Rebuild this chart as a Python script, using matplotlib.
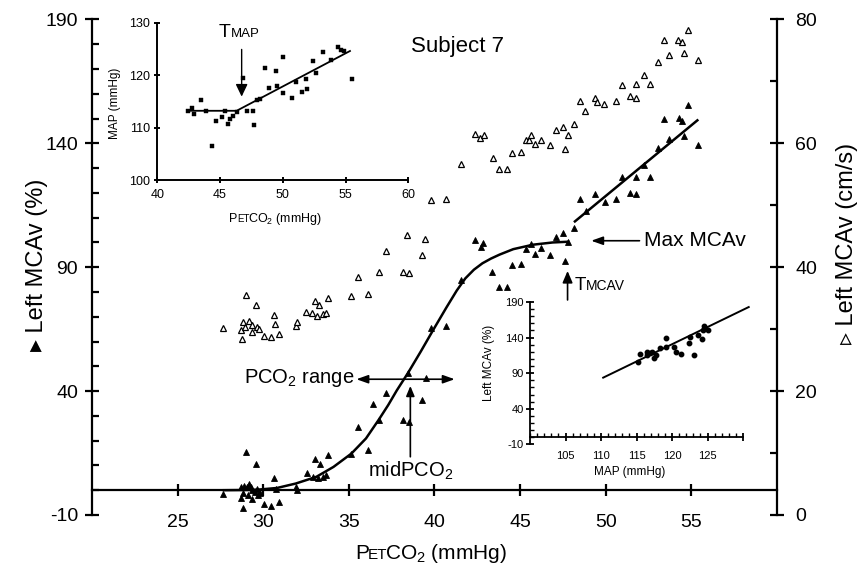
import matplotlib
matplotlib.use('Agg')
import matplotlib.pyplot as plt
from matplotlib.ticker import MultipleLocator
from matplotlib.offsetbox import TextArea, HPacker, AnnotationBbox

FAM = ['Liberation Sans', 'DejaVu Sans']
plt.rcParams['font.family'] = FAM
plt.rcParams['mathtext.default'] = 'regular'
plt.rcParams['axes.unicode_minus'] = False

# ---------------- data: main panel ----------------
# Left MCAv (%) vs PETCO2 (filled triangles, left axis)
pet_filled = [27.66, 28.73, 28.73, 28.79, 28.83, 28.89, 28.98, 29.03, 29.12, 29.18, 29.26, 29.35,
              29.37, 29.51, 29.57, 29.65, 29.70, 29.80, 30.05, 30.44, 30.62, 30.73, 30.91, 31.94,
              31.98, 32.53, 32.91, 33.01, 33.20, 33.30, 33.50, 33.69, 33.79, 35.15, 35.54, 36.12,
              36.41, 36.75, 37.15, 38.16, 38.45, 38.51, 39.29, 39.52, 39.82, 40.69, 41.57, 42.35,
              42.73, 42.83, 43.37, 43.76, 44.23, 44.54, 45.03, 45.36, 45.65, 45.88, 46.23, 46.72,
              47.07, 47.50, 47.64, 47.79, 48.12, 48.47, 48.86, 49.35, 49.93, 50.57, 50.96, 51.43,
              51.74, 51.78, 52.26, 52.56, 53.04, 53.43, 53.68, 54.25, 54.46, 54.54, 54.79, 55.37]
mcav_pct = [-1.5, 1.2, -3.3, -7.3, -1.3, 1.7, 15.5, 1.2, -2.0, 2.5, 1.2, -3.7,
            0.1, -0.6, 10.4, 0.3, -2.0, -1.3, -5.6, -6.4, 5.0, 0.3, -4.6, 1.4,
            0.1, 6.8, 5.4, 12.8, 4.8, 10.4, 5.4, 6.1, 14.4, 14.8, 25.5, 16.2,
            35.0, 28.3, 39.1, 28.2, 47.3, 27.5, 36.4, 45.3, 65.5, 66.2, 85.0, 100.9,
            98.2, 99.6, 87.9, 81.9, 81.9, 91.0, 91.3, 97.3, 99.3, 95.3, 97.7, 95.0,
            102.3, 103.9, 92.6, 100.0, 105.8, 117.7, 112.7, 119.5, 116.5, 117.4, 126.4, 120.1,
            126.5, 119.5, 131.2, 126.5, 138.2, 150.0, 141.6, 150.3, 149.0, 142.9, 155.3, 139.2]

# Left MCAv (cm/s) vs PETCO2 (open triangles, right axis)
pet_open = [27.66, 28.73, 28.77, 28.79, 28.93, 28.98, 29.18, 29.32, 29.37, 29.57, 29.65, 29.76,
            30.05, 30.44, 30.62, 30.68, 30.91, 31.94, 32.00, 32.49, 32.82, 33.01, 33.14, 33.26,
            33.49, 33.69, 33.79, 35.11, 35.54, 36.12, 36.75, 37.15, 38.16, 38.40, 38.49, 39.27,
            39.47, 39.82, 40.69, 41.57, 42.35, 42.67, 42.87, 43.41, 43.76, 44.25, 44.54, 45.03,
            45.32, 45.51, 45.65, 45.88, 46.23, 46.72, 47.07, 47.50, 47.64, 47.79, 48.12, 48.47,
            48.76, 49.35, 49.48, 49.89, 50.57, 50.96, 51.43, 51.74, 51.78, 52.26, 52.56, 53.04,
            53.43, 53.68, 54.21, 54.44, 54.54, 54.79, 55.37]
mcav_cms = [30.2, 29.8, 28.4, 31.1, 30.3, 35.5, 31.4, 30.6, 29.5, 33.9, 30.4, 30.0,
            28.9, 28.8, 32.3, 30.9, 29.2, 30.5, 31.2, 32.7, 32.6, 34.6, 32.2, 33.9,
            32.5, 32.6, 35.0, 35.3, 38.5, 35.6, 39.3, 42.7, 39.3, 45.2, 39.0, 41.9,
            44.5, 50.8, 51.0, 56.7, 61.5, 60.8, 61.3, 57.7, 55.8, 55.8, 58.5, 58.6,
            60.5, 60.6, 61.3, 59.9, 60.6, 59.8, 62.1, 62.6, 59.1, 61.3, 63.1, 66.8,
            65.2, 67.3, 66.7, 66.3, 66.9, 69.4, 67.6, 69.6, 67.4, 71.0, 69.6, 73.1,
            76.7, 74.2, 76.7, 76.3, 74.6, 78.3, 73.4]

# sigmoid fit and post-threshold linear fit
sig_x = [27.7, 29.2, 29.8, 30.8, 31.9, 33.1, 34.1, 35.15, 36.0, 36.75, 37.3, 37.8, 38.45,
         39.2, 39.9, 40.7, 41.3, 41.8, 42.3, 42.8, 43.3, 43.8, 44.6, 45.75, 46.9, 47.8]
sig_y = [0.0, 0.1, 0.3, 0.9, 2.7, 5.4, 9.4, 14.8, 20.9, 28.5, 34.4, 40.3, 47.3,
         56.0, 64.4, 73.8, 80.6, 85.5, 89.0, 91.6, 93.5, 95.1, 97.3, 99.1, 100.0, 100.3]
lin_x = [48.2, 55.35]
lin_y = [108.5, 149.3]

# ---------------- data: inset 1 (MAP vs PETCO2) ----------------
map_pet = [42.47, 42.79, 42.95, 43.48, 43.88, 44.38, 44.65, 45.13, 45.42, 45.63, 45.79, 46.00,
           46.32, 46.80, 47.17, 47.60, 47.73, 47.91, 48.18, 48.58, 48.90, 49.43, 49.56, 50.01,
           50.04, 50.70, 51.05, 51.55, 51.82, 51.90, 52.38, 52.67, 53.17, 53.81, 54.37, 54.61,
           54.90, 55.48]
map_val = [113.2, 113.7, 112.6, 115.3, 113.2, 106.4, 111.3, 112.0, 113.2, 110.7, 111.6, 112.3,
           113.0, 119.5, 113.2, 113.2, 110.5, 115.3, 115.4, 121.4, 117.6, 120.8, 117.9, 123.5,
           116.5, 115.7, 118.7, 116.7, 119.3, 117.3, 122.7, 120.5, 124.5, 122.9, 125.4, 124.7,
           124.6, 119.3]
map_fit_x = [42.47, 46.32, 55.35]
map_fit_y = [113.2, 113.2, 124.6]

# ---------------- data: inset 2 (MCAv % vs MAP) ----------------
map_x2 = [115.19, 115.51, 116.44, 116.53, 116.90, 117.13, 117.45, 117.69, 118.29, 119.12, 119.21,
          120.23, 120.51, 121.20, 122.45, 122.55, 123.15, 123.61, 124.21, 124.31, 124.44, 124.68,
          125.09]
mcav_y2 = [105.2, 117.6, 120.0, 115.7, 118.6, 120.0, 111.4, 116.2, 125.7, 126.7, 139.0,
           127.1, 120.0, 117.6, 131.9, 141.4, 116.2, 143.8, 138.6, 150.5, 155.7, 152.9,
           150.5]
reg_x2 = [110.3, 130.8]
reg_y2 = [83.8, 182.9]

# ---------------- helpers ----------------
def mixed(axis, parts, xy, coords, align=(0.5, 0.5), sep=0):
    boxes = [TextArea(t, textprops=dict(fontsize=s, color='black')) for t, s in parts]
    pack = HPacker(children=boxes, align='baseline', pad=0, sep=sep)
    ab = AnnotationBbox(pack, xy, xycoords=coords, frameon=False, box_alignment=align,
                        pad=0, annotation_clip=False)
    axis.add_artist(ab)


def arrow(axis, tip, tail, hl=0.7, hw=0.25, lw=1.2, style='-|>'):
    axis.annotate('', xy=tip, xytext=tail,
                  arrowprops=dict(arrowstyle=f'{style},head_length={hl},head_width={hw}',
                                  mutation_scale=10, lw=lw, color='black',
                                  shrinkA=0, shrinkB=0),
                  annotation_clip=False)


# ---------------- figure ----------------
fig = plt.figure(figsize=(8.62, 5.70), dpi=100)
ax = fig.add_axes([0.1067, 0.0965, 0.7947, 0.8693])
ax2 = ax.twinx()

ax.set_xlim(20, 60)
ax.set_ylim(-10, 190)
ax2.set_ylim(0, 80)

for s in ['top', 'right']:
    ax.spines[s].set_visible(False)
for s in ['top', 'left', 'bottom']:
    ax2.spines[s].set_visible(False)
ax.spines['bottom'].set_position(('data', 0))
ax.spines['left'].set_linewidth(1.6)
ax.spines['bottom'].set_linewidth(1.6)
ax2.spines['right'].set_linewidth(1.6)

ax.set_xticks([25, 30, 35, 40, 45, 50, 55])
ax.set_yticks([-10, 40, 90, 140, 190])
ax.yaxis.set_minor_locator(MultipleLocator(10))
ax2.set_yticks([0, 20, 40, 60, 80])
ax2.yaxis.set_minor_locator(MultipleLocator(10))

ax.tick_params(axis='x', which='major', direction='inout', length=8, width=1.6,
               labelsize=14, pad=13)
ax.tick_params(axis='y', which='major', direction='inout', length=10, width=1.6,
               labelsize=14, pad=5)
ax.tick_params(axis='y', which='minor', direction='in', length=5, width=1.6)
ax2.tick_params(axis='y', which='major', direction='inout', length=10, width=1.6,
                labelsize=14, pad=8)
ax2.tick_params(axis='y', which='minor', direction='in', length=5, width=1.6)

# marks
ax.plot(sig_x, sig_y, color='black', lw=1.8, zorder=3, solid_joinstyle='round')
ax.plot(lin_x, lin_y, color='black', lw=1.8, zorder=3)
ax.plot(pet_filled, mcav_pct, linestyle='none', marker='^', ms=4.6, mfc='black',
        mec='black', mew=0.6, zorder=4, clip_on=False)
ax2.plot(pet_open, mcav_cms, linestyle='none', marker='^', ms=4.6, mfc='white',
         mec='black', mew=0.9, zorder=4, clip_on=False)

# axis labels
ax.set_ylabel('\u25b8 Left MCAv (%)', fontsize=17, va='center')
ax.yaxis.set_label_coords(-0.080, 0.505)
ax2.set_ylabel('\u25b9 Left MCAv (cm/s)', fontsize=17, va='center', rotation=90)
ax2.yaxis.set_label_coords(1.102, 0.549)
mixed(ax, [('P', 15), ('ET', 11), ('CO$_2$ (mmHg)', 15)], (0.495, -0.077), 'axes fraction',
      sep=-1.2)

# annotations
ax.text(41.35, 179, 'Subject 7', fontsize=16, ha='center', va='center')
arrow(ax, (49.15, 100.7), (51.97, 100.7))
ax.text(52.22, 100.7, 'Max MCAv', fontsize=15, ha='left', va='center')
arrow(ax, (47.77, 88.5), (47.77, 76.8), hl=0.7, hw=0.3)
mixed(ax, [('T', 13.5), ('MCAV', 10)], (49.67, 82.8), 'data')
arrow(ax, (35.44, 44.8), (41.18, 44.8), style='<|-|>')
ax.text(35.35, 43.2, 'PCO$_2$ range', fontsize=14.5, ha='right', va='baseline')
arrow(ax, (38.59, 42.1), (38.59, 13.5), hl=0.6, hw=0.25)
ax.text(38.59, 5.5, 'midPCO$_2$', fontsize=14.5, ha='center', va='baseline')

# ---------------- inset 1 ----------------
ax3 = fig.add_axes([0.1825, 0.6842, 0.2912, 0.276])
ax3.patch.set_alpha(0)
ax3.set_xlim(40, 60)
ax3.set_ylim(100, 130)
for s in ['top', 'right']:
    ax3.spines[s].set_visible(False)
for s in ['left', 'bottom']:
    ax3.spines[s].set_linewidth(1.4)
ax3.set_xticks([40, 45, 50, 55, 60])
ax3.set_yticks([100, 110, 120, 130])
ax3.tick_params(axis='x', direction='inout', length=5, width=1.4, labelsize=9, pad=4)
ax3.tick_params(axis='y', direction='inout', length=5, width=1.4, labelsize=9, pad=2.5)
ax3.plot(map_fit_x, map_fit_y, color='black', lw=1.3)
ax3.plot(map_pet, map_val, linestyle='none', marker='s', ms=2.4, mfc='black', mec='black',
         mew=0.3)
ax3.set_ylabel('MAP (mmHg)', fontsize=8.5, va='center')
ax3.yaxis.set_label_coords(-0.169, 0.49)
mixed(ax3, [('P', 9), ('ET', 7), ('CO$_2$ (mmHg)', 9)], (0.472, -0.25), 'axes fraction',
      sep=-0.6)
arrow(ax3, (46.72, 115.9), (46.72, 124.9), hl=0.75, hw=0.36, lw=1.0)
mixed(ax3, [('T', 14), ('MAP', 9.5)], (46.51, 128.2), 'data')

# ---------------- inset 2 ----------------
ax4 = fig.add_axes([0.6149, 0.2202, 0.2471, 0.25])
ax4.patch.set_alpha(0)
ax4.set_xlim(100, 130)
ax4.set_ylim(-10, 190)
for s in ['top', 'right']:
    ax4.spines[s].set_visible(False)
ax4.spines['bottom'].set_position(('data', 0))
for s in ['left', 'bottom']:
    ax4.spines[s].set_linewidth(1.3)
ax4.set_xticks([105, 110, 115, 120, 125, 130])
ax4.set_xticklabels(['105', '110', '115', '120', '125', ''])
ax4.xaxis.set_minor_locator(MultipleLocator(1))
ax4.set_yticks([-10, 40, 90, 140, 190])
ax4.yaxis.set_minor_locator(MultipleLocator(10))
ax4.tick_params(axis='x', which='major', direction='inout', length=6, width=1.3,
                labelsize=8, pad=7)
ax4.tick_params(axis='x', which='minor', direction='in', length=3, width=1.0)
ax4.tick_params(axis='y', which='major', direction='inout', length=6, width=1.3,
                labelsize=8, pad=1.5)
ax4.tick_params(axis='y', which='minor', direction='in', length=3, width=1.0)
ax4.plot(reg_x2, reg_y2, color='black', lw=1.4, clip_on=False)
ax4.plot(map_x2, mcav_y2, linestyle='none', marker='o', ms=3.2, mfc='black', mec='black')
ax4.set_ylabel('Left MCAv (%)', fontsize=8.5, va='center')
ax4.yaxis.set_label_coords(-0.191, 0.572)
ax4.set_xlabel('MAP (mmHg)', fontsize=8.5, va='center')
ax4.xaxis.set_label_coords(0.47, -0.193)

fig.savefig('out.png', dpi=100)
